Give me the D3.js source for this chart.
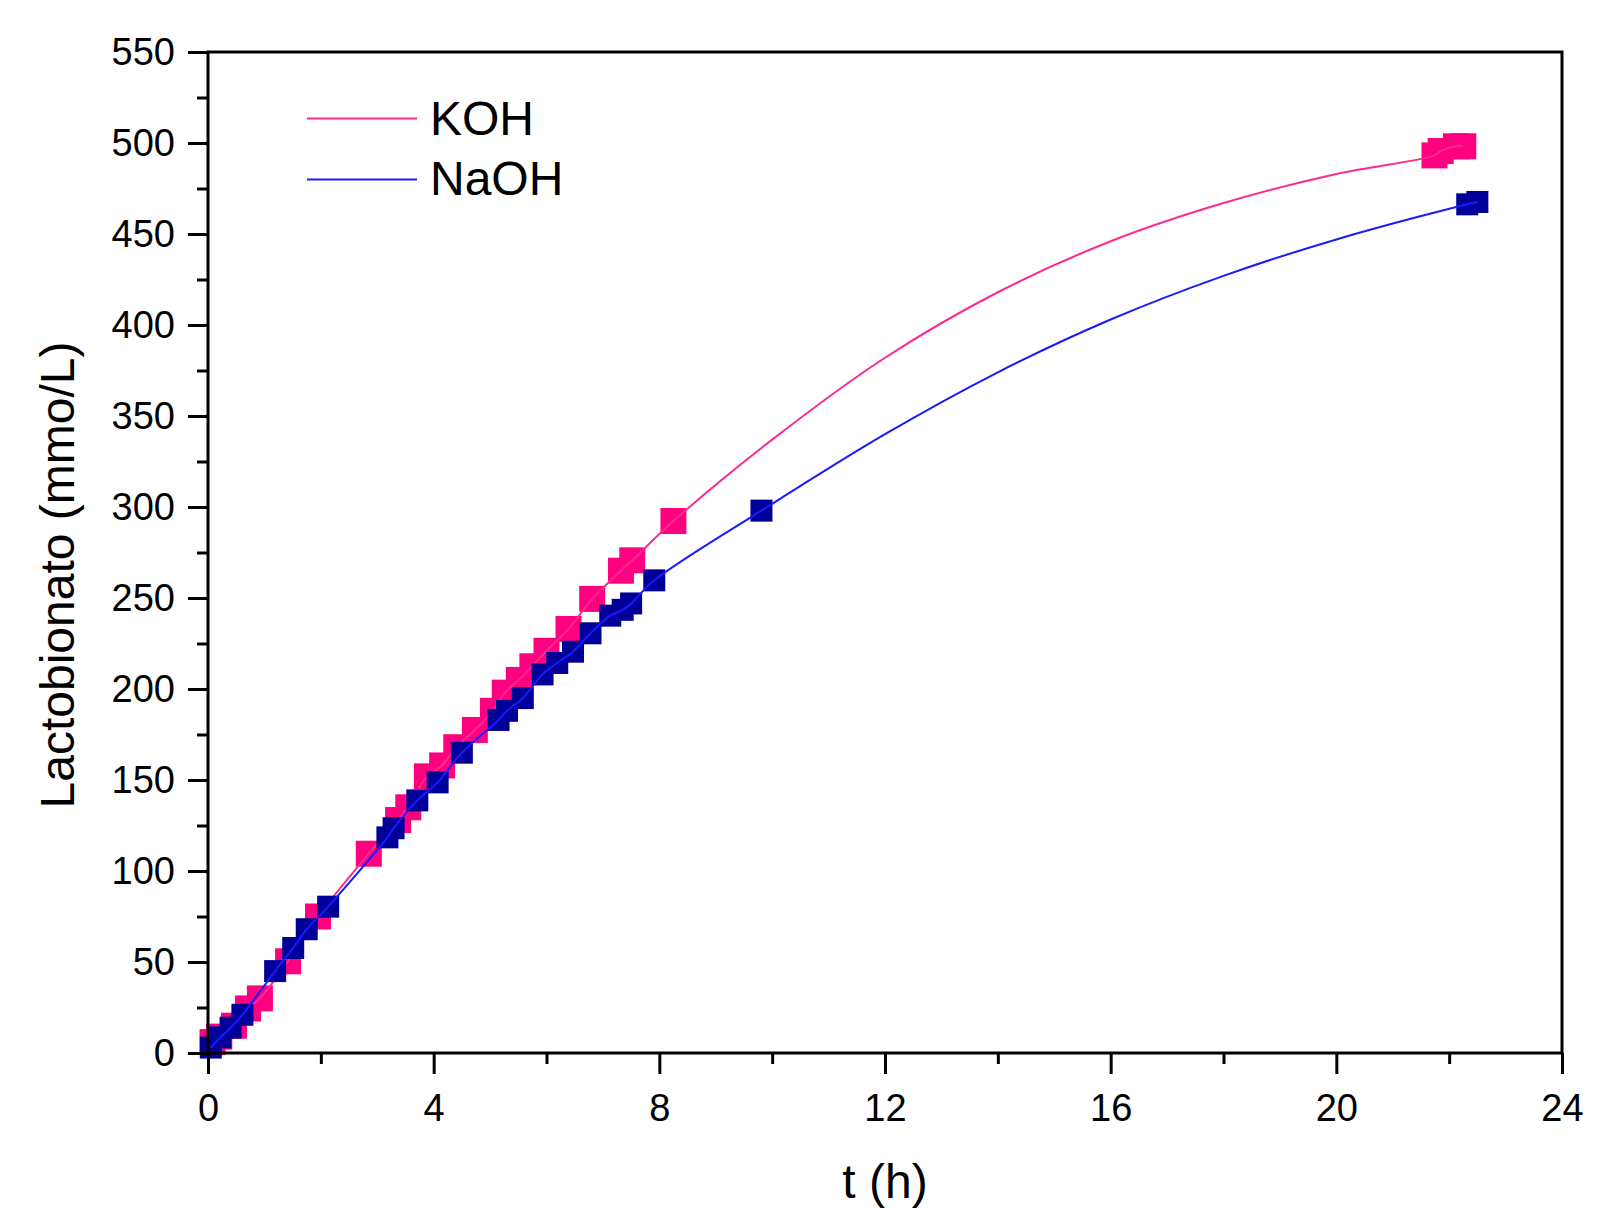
<!DOCTYPE html>
<html lang="en">
	<head>
		<meta charset="utf-8">
		<title>Lactobionato KOH vs NaOH</title>
		<script type="text/javascript" src="https://cdn.jsdelivr.net/npm/d3@7"></script>
		<style>
			body { margin: 0; background: white; }
			text { font-family: "Liberation Sans", Arial, sans-serif; fill: black; }
		</style>
	</head>
	<body>
		<script type="text/javascript">
			// measured points, KOH
			var kohT = [0.08, 0.2, 0.46, 0.71, 0.92, 1.42, 1.95, 2.85, 3.37, 3.55, 3.88, 4.15, 4.4, 4.73, 5.05, 5.26, 5.51, 5.75, 6.0, 6.39, 6.81, 7.32, 7.52, 8.25, 21.74, 21.85, 22.12, 22.25];
			var kohV = [6, 9, 15, 24.5, 30, 50.4, 75, 109.5, 128, 135, 152, 158, 168, 177.5, 188, 198, 205, 212.5, 221, 233, 249.5, 265, 270.7, 292.3, 493.2, 495.6, 498.2, 498.2];

			// measured points, NaOH
			var naohT = [0.05, 0.22, 0.40, 0.61, 1.19, 1.51, 1.75, 2.13, 3.18, 3.29, 3.71, 4.07, 4.5, 5.15, 5.3, 5.58, 5.93, 6.19, 6.47, 6.78, 7.13, 7.35, 7.5, 7.91, 9.81, 22.32, 22.5];
			var naohV = [3, 8.6, 13.9, 21, 45, 57.7, 68, 80.4, 118.5, 123.5, 138.8, 148.7, 165, 183, 188, 195, 208, 214.3, 220.5, 230.6, 240.3, 243.5, 247, 259.7, 298, 466.3, 467.6];

			// the smooth connecting line in the gap
			var kohCurveT = [10, 12, 14, 16, 18, 20];
			var kohCurveV = [337, 382, 418, 446, 467, 483];
			var naohCurveT = [12, 14, 16, 18, 20];
			var naohCurveV = [340, 374, 403, 427, 447];

			var xMajor = [0, 4, 8, 12, 16, 20, 24];
			var xMinor = [2, 6, 10, 14, 18, 22];
			var yMajor = [0, 50, 100, 150, 200, 250, 300, 350, 400, 450, 500, 550];
			var yMinor = [25, 75, 125, 175, 225, 275, 325, 375, 425, 475, 525];

			var w = 1608;
			var h = 1208;
			var plotL = 208, plotR = 1562, plotT = 52, plotB = 1053;

			var kohMark = "#ff0080", kohLine = "#ff2a90";
			var naohMark = "#000099", naohLine = "#1a1aff";

			var xScale = d3.scaleLinear()
						   .domain([0, 24])
						   .range([plotL, plotR]);
			var yScale = d3.scaleLinear()
						   .domain([0, 550])
						   .range([plotB, plotT]);

			var svg = d3.select("body")
						.append("svg")
						.attr("width", w)
						.attr("height", h);

			function pairs(ts, vs) {
				return ts.map(function(t, i) { return [t, vs[i]]; });
			}
			function merged(ts, vs, cts, cvs) {
				return pairs(ts, vs).concat(pairs(cts, cvs))
					.sort(function(a, b) { return a[0] - b[0]; });
			}

			var line = d3.line()
						 .x(function(d) { return xScale(d[0]); })
						 .y(function(d) { return yScale(d[1]); })
						 .curve(d3.curveCatmullRom.alpha(0.5));

			function drawSeries(data, lineData, size, fill, stroke) {
				svg.append("g")
				   .selectAll("rect")
				   .data(data)
				   .enter()
				   .append("rect")
				   .attr("x", function(d) { return xScale(d[0]) - size / 2; })
				   .attr("y", function(d) { return yScale(d[1]) - size / 2; })
				   .attr("width", size)
				   .attr("height", size)
				   .attr("fill", fill);
				svg.append("path")
				   .datum(lineData)
				   .attr("d", line)
				   .attr("fill", "none")
				   .attr("stroke", stroke)
				   .attr("stroke-width", 2);
			}

			drawSeries(pairs(kohT, kohV), merged(kohT, kohV, kohCurveT, kohCurveV), 26, kohMark, kohLine);
			drawSeries(pairs(naohT, naohV), merged(naohT, naohV, naohCurveT, naohCurveV), 22, naohMark, naohLine);

			// axes
			function styleAxis(g) {
				g.selectAll(".domain").remove();
				g.selectAll("line").attr("stroke", "black").attr("stroke-width", 3);
				g.selectAll("text").attr("font-size", 38).attr("font-family", "Liberation Sans, Arial, sans-serif");
			}

			svg.append("g")
			   .attr("transform", "translate(" + plotL + ",0)")
			   .call(d3.axisLeft(yScale).tickValues(yMinor).tickSize(11).tickFormat(""))
			   .call(styleAxis);
			svg.append("g")
			   .attr("transform", "translate(" + plotL + ",0)")
			   .call(d3.axisLeft(yScale).tickValues(yMajor).tickSize(20).tickPadding(13).tickFormat(d3.format("d")))
			   .call(styleAxis);

			svg.append("g")
			   .attr("transform", "translate(0," + plotB + ")")
			   .call(d3.axisBottom(xScale).tickValues(xMinor).tickSize(11).tickFormat(""))
			   .call(styleAxis);
			svg.append("g")
			   .attr("transform", "translate(0," + plotB + ")")
			   .call(d3.axisBottom(xScale).tickValues(xMajor).tickSize(21).tickPadding(20).tickFormat(d3.format("d")))
			   .call(styleAxis);

			// frame
			svg.append("rect")
			   .attr("x", plotL)
			   .attr("y", plotT)
			   .attr("width", plotR - plotL)
			   .attr("height", plotB - plotT)
			   .attr("fill", "none")
			   .attr("stroke", "black")
			   .attr("stroke-width", 3);

			// titles
			svg.append("text")
			   .attr("x", (plotL + plotR) / 2)
			   .attr("y", 1198)
			   .attr("text-anchor", "middle")
			   .attr("font-size", 48)
			   .text("t (h)");
			svg.append("text")
			   .attr("transform", "translate(74,575) rotate(-90)")
			   .attr("text-anchor", "middle")
			   .attr("font-size", 48)
			   .text("Lactobionato (mmo/L)");

			// legend
			var legend = [["KOH", kohLine, 118.5, 135], ["NaOH", naohLine, 179.5, 195]];
			legend.forEach(function(l) {
				svg.append("line")
				   .attr("x1", 307).attr("x2", 417)
				   .attr("y1", l[2]).attr("y2", l[2])
				   .attr("stroke", l[1])
				   .attr("stroke-width", 2);
				svg.append("text")
				   .attr("x", 430)
				   .attr("y", l[3])
				   .attr("font-size", 48)
				   .text(l[0]);
			});
		</script>
	</body>
</html>
